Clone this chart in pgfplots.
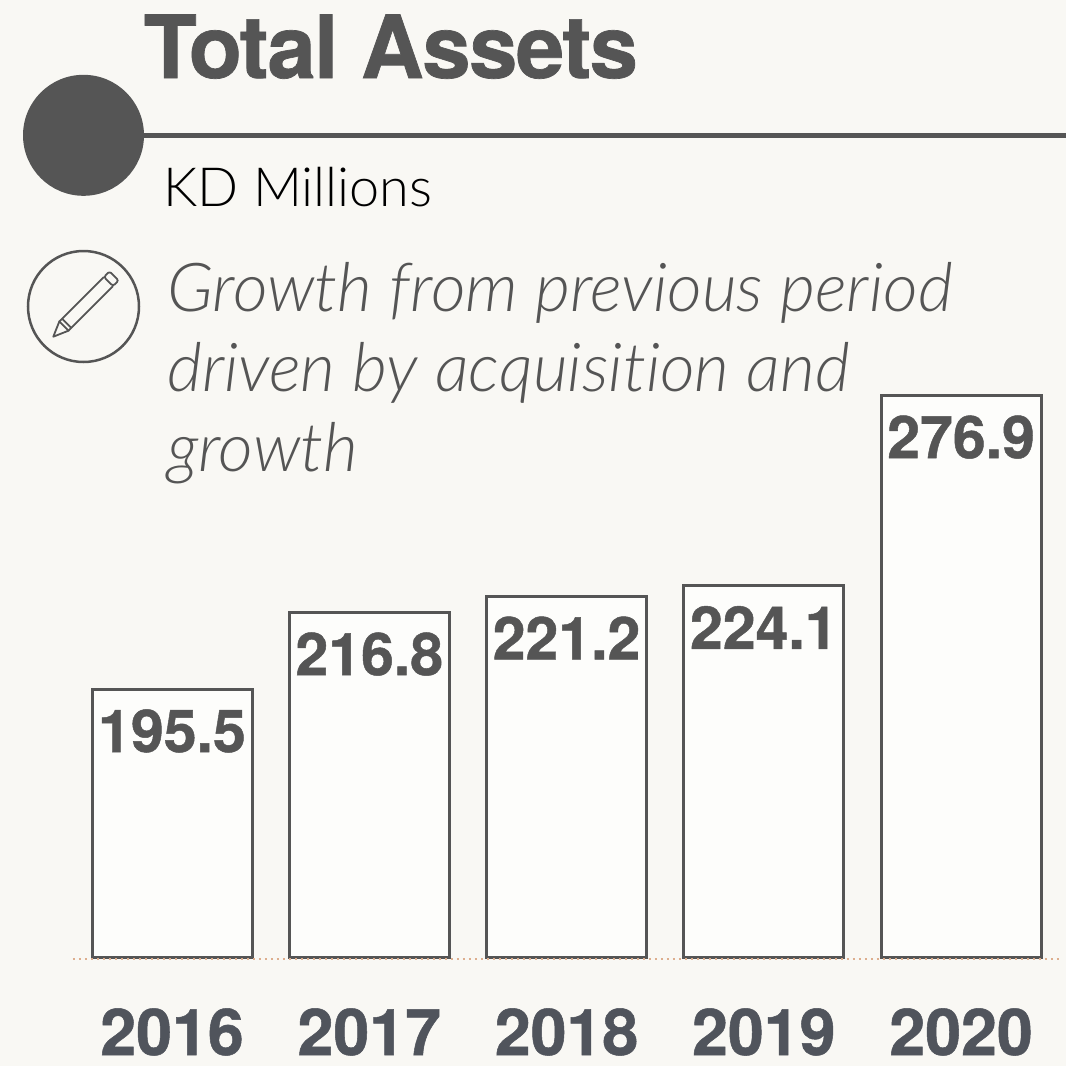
\documentclass[border=0pt]{standalone}
\usepackage{fontspec}
\usepackage{pgfplots}
\pgfplotsset{compat=1.18}
\setmainfont[BoldFeatures={FakeBold=0.8}]{TeX Gyre Heros}
\newfontfamily\titlefont[LetterSpace=-1.8,BoldFeatures={FakeBold=0.8}]{TeX Gyre Heros}
\newfontfamily\lightfont[Ligatures=NoCommon]{Lato Light}
\newfontfamily\lightit[Ligatures=NoCommon]{Lato Light Italic}
\definecolor{bg}{HTML}{F9F8F4}
\definecolor{barfill}{HTML}{FDFDFB}
\definecolor{ink}{HTML}{555555}
\definecolor{yearink}{HTML}{50545C}
\definecolor{dots}{HTML}{DDAE8E}
\begin{document}
\begin{tikzpicture}[x=1pt,y=1pt]
  % page, measured from the top left in px
  \path[use as bounding box,fill=bg] (0,-1066) rectangle (1066,0);
  \begin{axis}[at={(0pt,-957pt)},anchor=south west,scale only axis,width=1066pt,height=957pt,
      xmin=-0.872,xmax=4.532,ymin=0,ymax=265.1,
      y filter/.code={\pgfmathparse{#1-121.26}},
      axis line style={draw=none},major tick length=0pt,ytick=\empty,
      xtick={0,1,2,3,4},xticklabels={2016,2017,2018,2019,2020},
      x tick label style={font=\fontsize{64.5}{64.5}\selectfont\bfseries,text=yearink,anchor=base,inner sep=0pt,yshift=-98pt},
      clip=false]
    \addplot[ybar,bar width=160pt,bar shift=0pt,draw=ink,line width=3pt,fill=barfill,
        nodes near coords,point meta=rawy,
        every node near coord/.append style={anchor=north,yshift=-15.5pt,text=ink,
          font=\fontsize{59}{59}\selectfont\bfseries,
          /pgf/number format/assume math mode=true,
          /pgf/number format/fixed,/pgf/number format/fixed zerofill,/pgf/number format/precision=1}]
      coordinates {(0,195.5) (1,216.8) (2,221.2) (3,224.1) (4,276.9)};
    \addplot[dots,line width=2pt,dash pattern=on 2pt off 4pt] coordinates {(-0.502,120.84) (4.502,120.84)};
  \end{axis}
  \fill[ink] (83.5,-135.3) circle (60.5);
  \draw[ink,line width=5pt] (84,-135) -- (1066,-135);
  \node[anchor=base west,inner sep=0,text=ink,font=\fontsize{87}{87}\titlefont\bfseries] at (143.5,-78) {Total Assets};
  \node[anchor=base west,inner sep=0,font=\fontsize{54}{58}\lightfont] at (163,-206) {KD Millions};
  \draw[ink,line width=2.5pt] (83.5,-306.5) circle (55.5);
  % pencil, along its own axis from the tip
  \begin{scope}[shift={(53.3,-336.7)},rotate=45,ink,line width=1.8pt,line join=round]
    \draw (0,0) -- (15,6.5) -- (15,-6.5) -- cycle;
    \draw (15,6.5) -- (78,6.5) (15,-6.5) -- (78,-6.5) (19,6.5) -- (19,-6.5);
    \draw[rounded corners=2.5pt] (78,6.5) -- (86,6.5) -- (86,-6.5) -- (78,-6.5) -- cycle;
  \end{scope}
  \node[anchor=base west,inner sep=0,text=ink,font=\fontsize{67.5}{67.5}\lightit] at (167,-311) {Growth from previous period};
  \node[anchor=base west,inner sep=0,text=ink,font=\fontsize{67.5}{67.5}\lightit] at (167,-391) {driven by acquisition and};
  \node[anchor=base west,inner sep=0,text=ink,font=\fontsize{67.5}{67.5}\lightit] at (167,-471) {growth};
\end{tikzpicture}
\end{document}
